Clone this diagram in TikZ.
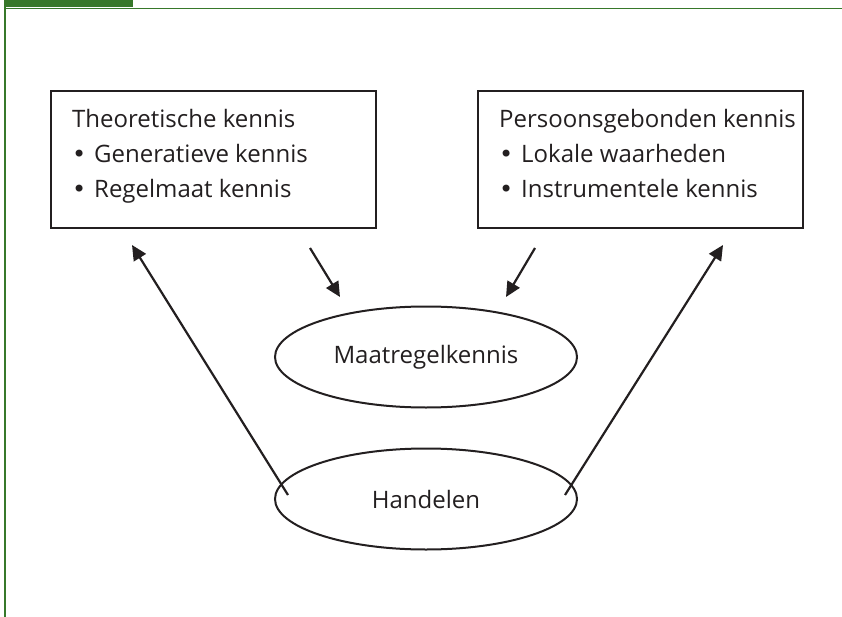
\documentclass[tikz,border=0pt]{standalone}
\usepackage{fontspec}
\setmainfont{Open Sans}
\newfontfamily\kbulfont{DejaVu Sans}
\usetikzlibrary{shapes.geometric,arrows.meta}
\definecolor{hdrgreen}{HTML}{37782A}
\definecolor{ink}{HTML}{231F20}
\newcommand{\kbul}{\makebox[22pt][l]{{\kbulfont •}}}
\tikzset{
  kbox/.style={draw=ink, line width=2.4pt, rectangle, minimum width=325pt, minimum height=137pt, anchor=north west, inner sep=0pt},
  ktext/.style={anchor=base west, inner sep=0pt, font=\fontsize{24}{35}\selectfont, text=ink, align=left},
  kell/.style={draw=ink, line width=2pt, ellipse, minimum width=302pt, minimum height=101pt, inner sep=0pt, font=\fontsize{24}{30}\selectfont, text=ink},
  karrow/.style={draw=ink, line width=2.2pt, -{Triangle[length=15pt,width=14pt]}},
}
\begin{document}
\begin{tikzpicture}[x=1pt,y=-1pt]
\useasboundingbox (0,0) rectangle (842,617);
% header decoration
\fill[hdrgreen] (4,0) rectangle (133,7.5);
\draw[hdrgreen, line width=1.3pt] (4,8.2) -- (842,8.2);
\draw[hdrgreen, line width=1.6pt] (5,7.5) -- (5,617);
% boxes
\node[kbox] (lbox) at (50,90) {};
\node[kbox] (rbox) at (477,90) {};
\node[ktext] (ltxt) at (72,198) {Theoretische kennis\\\kbul Generatieve kennis\\\kbul Regelmaat kennis};
\node[ktext] (rtxt) at (499,198) {Persoonsgebonden kennis\\\kbul Lokale waarheden\\\kbul Instrumentele kennis};
% ellipses
\node[kell] (maat) at (426,357) {Maatregelkennis};
\node[kell] (hand) at (426,499) {Handelen};
% arrow end points
\coordinate (hl) at (288,495);
\coordinate (hr) at (565,495);
\coordinate (tl) at (132,245);
\coordinate (tr) at (723,245);
\coordinate (sl1) at (310,248);
\coordinate (sl2) at (340,297);
\coordinate (sr1) at (535,248);
\coordinate (sr2) at (506,297);
\draw[karrow] (hl) -- (tl);
\draw[karrow] (hr) -- (tr);
\draw[karrow] (sl1) -- (sl2);
\draw[karrow] (sr1) -- (sr2);
\end{tikzpicture}
\end{document}
